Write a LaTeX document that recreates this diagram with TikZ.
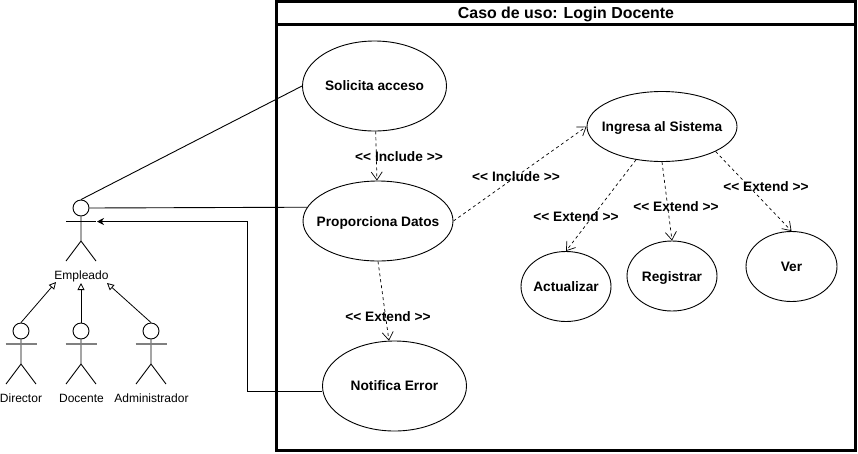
\documentclass[tikz,border=0pt]{standalone}
\usepackage{fontspec}
\setmainfont{Liberation Sans}
\usetikzlibrary{arrows.meta,shapes.geometric}
\tikzset{
  uc/.style={draw,ellipse,inner sep=0pt,line width=.9pt},
  uctext/.style={font=\fontsize{13.7}{15}\selectfont\bfseries,inner sep=0pt},
  head/.style={draw,circle,minimum size=16pt,inner sep=0pt,line width=.9pt},
  lbl/.style={font=\fontsize{13.7}{15}\selectfont\bfseries,inner sep=0pt},
  actl/.style={font=\fontsize{12}{14}\selectfont,inner sep=0pt},
  dep/.style={line width=.7pt,dash pattern=on 3pt off 3pt,-{Straight Barb[length=8pt,width=11pt,line width=.7pt]}},
  gen/.style={line width=.8pt,-{Triangle[open,length=7pt,width=7pt,line width=.8pt]}},
  line/.style={line width=.9pt},
}
\newcommand{\actorbody}[3]{% name, x, arm colour
  \coordinate (#1arm) at (#2,344);
  \draw[line] (#1.south) -- (#2,364) -- (#2-15,384) (#2,364) -- (#2+15,384);
  \draw[line width=1.2pt,draw=#3] (#2-15.5,344) -- (#2+15.5,344);
}
\begin{document}
\begin{tikzpicture}[x=1pt,y=-1pt]
\useasboundingbox (0,0) rectangle (858,453);
\node[draw,line width=3pt,minimum width=579pt,minimum height=449pt,inner sep=0pt] (frame) at (566,226) {};
\draw[line width=3pt] (276.5,24) -- (855.5,24) coordinate (titlerule);
\node[font=\fontsize{15.9}{18}\selectfont\bfseries,inner sep=0pt] (title) at (566,14) {Caso de uso: Login Docente};

\node[uc,minimum width=144pt,minimum height=90pt,label={[uctext]center:Solicita acceso}] (sol) at (374.5,86) {};
\node[uc,minimum width=150pt,minimum height=80pt,label={[uctext,yshift=-1.5pt]center:Proporciona Datos}] (prop) at (378,221) {};
\node[uc,minimum width=144pt,minimum height=90pt,label={[uctext]center:Notifica Error}] (err) at (394.5,386) {};
\node[uc,minimum width=150pt,minimum height=70pt,label={[uctext,yshift=-1pt]center:Ingresa al Sistema}] (ing) at (662,126.5) {};
\node[uc,minimum width=90pt,minimum height=70pt,label={[uctext]center:Actualizar}] (act) at (566,286.5) {};
\node[uc,minimum width=90pt,minimum height=70pt,label={[uctext,yshift=-1.5pt]center:Registrar}] (reg) at (672,276) {};
\node[uc,minimum width=91pt,minimum height=70pt,label={[uctext]center:Ver}] (ver) at (791.5,266.5) {};

\draw[dep] (sol) -- (prop);
\draw[dep] (prop.south) -- (err.97);
\draw[dep] (prop.east) -- (ing.west);
\draw[dep] (ing.232) -- (act.north);
\draw[dep] (ing.south) -- (reg.north);
\draw[dep] (ing.335) -- (ver.north);

\node[lbl] (l1) at (399,157) {<{}< Include >{}>};
\node[lbl] (l2) at (516,177) {<{}< Include >{}>};
\node[lbl] (l3) at (388,317) {<{}< Extend >{}>};
\node[lbl] (l4) at (576,217) {<{}< Extend >{}>};
\node[lbl] (l5) at (676,207) {<{}< Extend >{}>};
\node[lbl] (l6) at (766,187) {<{}< Extend >{}>};

% main actor
\node[head] (emp) at (81,208) {};
\coordinate (emparm) at (81,221.5);
\draw[line] (emp.south) -- (81,241) -- (66,261) (81,241) -- (96,261);
\draw[line] (66,221.5) -- (96,221.5);
\coordinate (empr) at (97,221.5);
\node[actl] (emplbl) at (81.5,276) {Empleado};

% sub actors
\node[head] (dir) at (21,331) {};
\node[head] (doc) at (81,331) {};
\node[head] (adm) at (151,331) {};
\actorbody{dir}{21}{gray}
\actorbody{doc}{81}{gray}
\actorbody{adm}{151}{gray}
\node[actl] (dirl) at (21,398) {Director};
\node[actl] (docl) at (81.5,398) {Docente};
\node[actl] (adml) at (151.5,398) {Administrador};

\coordinate (ga) at (56,282);
\coordinate (gb) at (81,283);
\coordinate (gc) at (107,283);
\draw[gen] (dir.north) -- (ga);
\draw[gen] (doc.north) -- (gb);
\draw[gen] (adm.north) -- (gc);

% connectors
\draw[line] (emp.north) -- (sol.west);
\draw[line] (emp.east) -- (prop.169);
\draw[line,-{Stealth[length=7pt,width=7pt]}] (err.west|-0,391.5) -- (247,391.5) -- (247,221.5) -- (empr);
\end{tikzpicture}
\end{document}
